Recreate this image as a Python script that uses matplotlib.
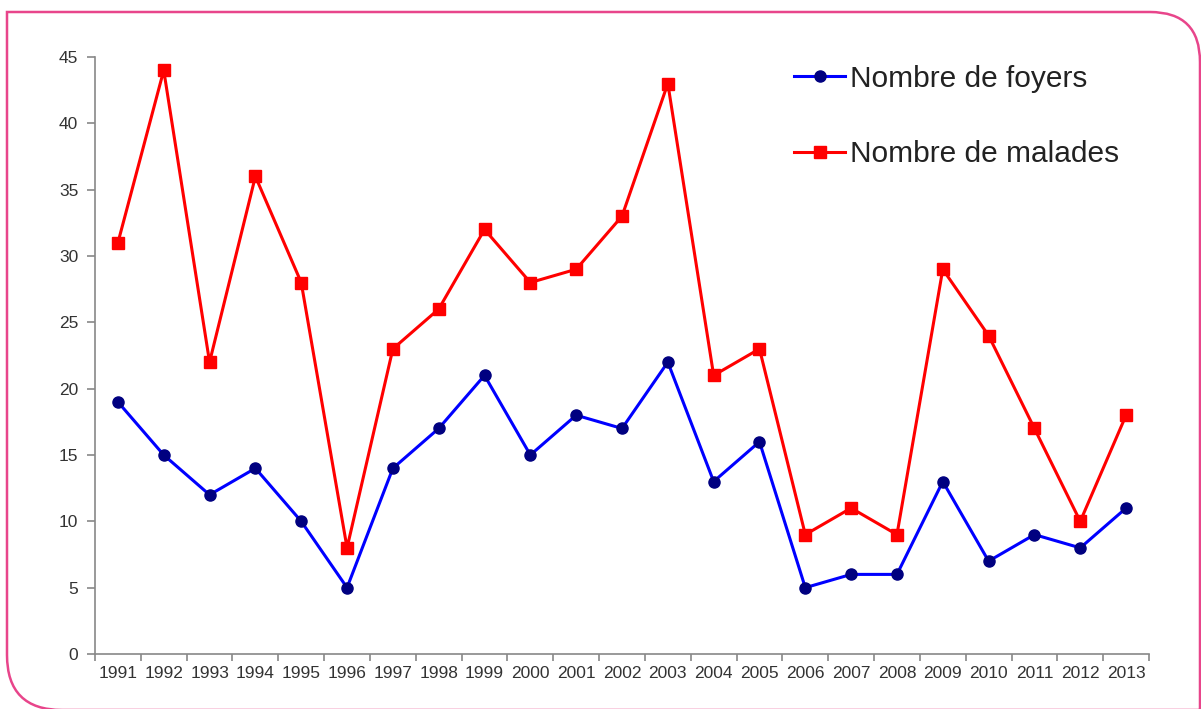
import matplotlib

matplotlib.use("Agg")
import matplotlib.pyplot as plt
from matplotlib.path import Path
from matplotlib.patches import PathPatch

plt.rcParams["font.family"] = ["Liberation Sans", "DejaVu Sans"]

years = [str(y) for y in range(1991, 2014)]
foyers = [19, 15, 12, 14, 10, 5, 14, 17, 21, 15, 18, 17, 22, 13, 16, 5, 6, 6, 13, 7, 9, 8, 11]
malades = [31, 44, 22, 36, 28, 8, 23, 26, 32, 28, 29, 33, 43, 21, 23, 9, 11, 9, 29, 24, 17, 10, 18]

W, H = 1201, 709
fig = plt.figure(figsize=(W / 100, H / 100), dpi=100)
fig.patch.set_facecolor("white")

# pink frame: square top-left corner, rounded top-right and bottom-left
frame_ax = fig.add_axes([0, 0, 1, 1])
frame_ax.set_xlim(0, W)
frame_ax.set_ylim(H, 0)
frame_ax.axis("off")
r1, r2 = 50, 55
verts = [
    (1250, H + 1),
    (r2 + 7, H + 1),
    (7, H + 1), (7, H + 1 - r2),
    (7, 12),
    (W - 1 - r1, 12),
    (W - 1, 12), (W - 1, 12 + r1),
    (W - 1, H + 20),
]
codes = [Path.MOVETO, Path.LINETO, Path.CURVE3, Path.CURVE3, Path.LINETO,
         Path.LINETO, Path.CURVE3, Path.CURVE3, Path.LINETO]
frame_ax.add_patch(PathPatch(Path(verts, codes), fill=False, edgecolor="#e8458b", lw=1.8))

ax = fig.add_axes([95 / W, 1 - 654 / H, (1149 - 95) / W, (654 - 57) / H])
x = list(range(len(years)))
ax.plot(x, foyers, color="#0000ff", lw=2.2, marker="o", ms=8,
        mfc="#000080", mec="#000080", label="Nombre de foyers", zorder=3)
ax.plot(x, malades, color="#ff0000", lw=2.2, marker="s", ms=8,
        mfc="#ff0000", mec="#ff0000", label="Nombre de malades", zorder=3)

ax.set_xlim(-0.5, len(years) - 0.5)
ax.set_ylim(0, 45)
ax.set_yticks(range(0, 46, 5))
ax.set_xticks(x)
ax.set_xticklabels(years)
ax.set_xticks([i - 0.5 for i in range(len(years) + 1)], minor=True)
ax.tick_params(axis="x", which="major", length=0, pad=9, labelsize=12.5, labelcolor="#333333")
ax.tick_params(axis="x", which="minor", length=5, color="#888888", width=1.2)
ax.tick_params(axis="y", length=6, color="#888888", width=1.2, pad=6, labelsize=12.5, labelcolor="#333333")
for side in ("top", "right"):
    ax.spines[side].set_visible(False)
for side in ("left", "bottom"):
    ax.spines[side].set_color("#888888")
    ax.spines[side].set_linewidth(1.2)

ax.legend(loc="upper left", bbox_to_anchor=(0.638, 1.032), frameon=False,
          fontsize=21.5, labelspacing=1.58, handlelength=1.7, handletextpad=0.17,
          labelcolor="#222222")

fig.savefig("out.png", dpi=100)
